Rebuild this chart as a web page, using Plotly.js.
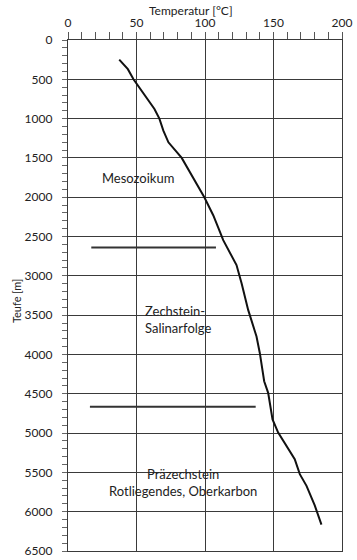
<!DOCTYPE html>
<html>
<head>
<meta charset="utf-8">
<script src="https://cdn.plot.ly/plotly-3.0.1.min.js"></script>
<style>html,body{margin:0;padding:0;background:#fff;}#chart{width:357px;height:560px;}</style>
</head>
<body>
<div id="chart"></div>
<script>
// Temperature profile (°C) vs depth (m)
var tempC = [37.4, 43.7, 47.8, 63.1, 66.7, 69.6, 73.3, 83.0, 99.5, 106.0, 110.4, 113.3, 123.0, 125.0, 126.7, 131.5, 137.6, 140.0, 143.2, 146.1, 147.8, 149.3, 153.4, 165.5, 169.2, 174.1, 180.1, 185.0];
var depthM = [250, 371, 500, 878, 1000, 1153, 1301, 1500, 2000, 2229, 2419, 2546, 2863, 2980, 3094, 3433, 3771, 3981, 4341, 4488, 4699, 4826, 4994, 5333, 5523, 5671, 5920, 6165];

// Boundary lines between units
var boundary1T = [17, 108];
var boundary1D = [2640, 2640];
var boundary2T = [16, 137];
var boundary2D = [4665, 4665];

// Unit labels
var unitLabels = ["Mesozoikum", "Zechstein-<br>Salinarfolge", "Präzechstein<br>Rotliegendes, Oberkarbon"];
var unitT = [51, 55, 84];
var unitD = [1760, 3560, 5630];

var FONT = "Lato, 'DejaVu Sans Condensed', sans-serif";
var GRID = "#3a3a3a";

var traces = [
  {x: tempC, y: depthM, mode: "lines", line: {color: "#111", width: 2}, hoverinfo: "skip"},
  {x: boundary1T, y: boundary1D, mode: "lines", line: {color: "#333", width: 2}, hoverinfo: "skip"},
  {x: boundary2T, y: boundary2D, mode: "lines", line: {color: "#333", width: 2}, hoverinfo: "skip"},
  {x: [0], y: [0], xaxis: "x2", yaxis: "y2", mode: "markers", marker: {opacity: 0}, hoverinfo: "skip"}
];

var layout = {
  width: 357, height: 560,
  margin: {l: 68, r: 15, t: 40, b: 9},
  paper_bgcolor: "#fff", plot_bgcolor: "rgba(0,0,0,0)",
  showlegend: false,
  font: {family: FONT, size: 11, color: "#222"},
  xaxis: {
    side: "top", range: [0, 200], dtick: 50, tick0: 0,
    showgrid: true, gridcolor: GRID, gridwidth: 1,
    zeroline: false, showline: true, mirror: true, linecolor: GRID, linewidth: 1.2,
    ticks: "", 
    tickfont: {family: FONT, size: 12, color: "#222"},
    ticklabelstandoff: 7,
    fixedrange: true
  },
  yaxis: {
    range: [6500, 0], dtick: 500, tick0: 0,
    showgrid: true, gridcolor: GRID, gridwidth: 1,
    zeroline: false, showline: true, mirror: true, linecolor: GRID, linewidth: 1.2,
    ticks: "",
    tickfont: {family: FONT, size: 12, color: "#222"},
    ticklabelstandoff: 12,
    fixedrange: true
  },
  xaxis2: {
    overlaying: "x", side: "top", anchor: "y2", range: [0, 200], dtick: 10, tick0: 0,
    showgrid: false, zeroline: false, showline: false, showticklabels: false,
    ticks: "outside", ticklen: 7, tickcolor: "#555", tickwidth: 1, fixedrange: true
  },
  yaxis2: {
    overlaying: "y", side: "left", anchor: "x2", range: [6500, 0], dtick: 100, tick0: 0,
    showgrid: false, zeroline: false, showline: false, showticklabels: false,
    ticks: "outside", ticklen: 5, tickcolor: "#666", tickwidth: 1, fixedrange: true
  },
  annotations: [
    {text: "Temperatur [°C]", xref: "paper", yref: "paper", x: 0.45, y: 1, yshift: 30, yanchor: "middle", showarrow: false,
     font: {family: FONT, size: 12, color: "#222"}},
    {text: "Teufe [m]", xref: "paper", yref: "paper", x: 0, xshift: -60, y: 0.49, textangle: -90, showarrow: false,
     font: {family: FONT, size: 11, color: "#222"}},
    {text: unitLabels[0], x: unitT[0], y: unitD[0], showarrow: false, font: {family: FONT, size: 13, color: "#222"}},
    {text: unitLabels[1], x: unitT[1], y: unitD[1], showarrow: false, xanchor: "left", align: "left", font: {family: FONT, size: 13, color: "#222"}},
    {text: unitLabels[2], x: unitT[2], y: unitD[2], showarrow: false, align: "center", font: {family: FONT, size: 13, color: "#222"}}
  ]
};

Plotly.newPlot("chart", traces, layout, {staticPlot: true, displayModeBar: false});
</script>
</body>
</html>
